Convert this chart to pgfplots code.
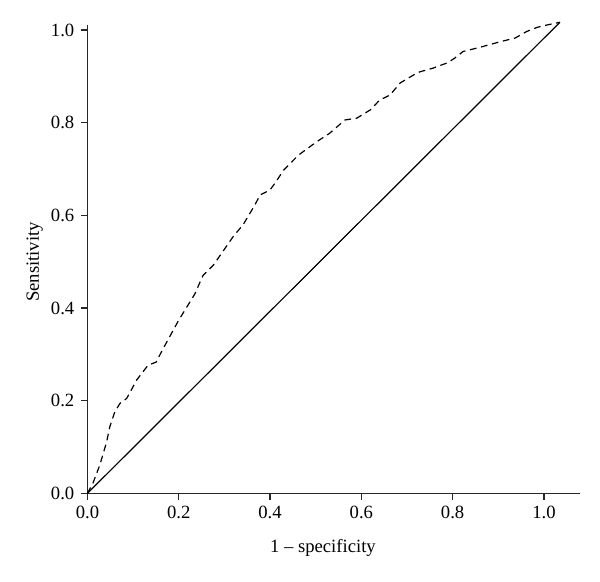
\documentclass[border=0pt]{standalone}
\usepackage{fontspec}
\setmainfont{Liberation Serif}
\usepackage{pgfplots}
\pgfplotsset{compat=1.18}
\begin{document}
\fontsize{14}{16}\selectfont
\begin{tikzpicture}
\path[use as bounding box] (-65.6pt,-65.8pt) rectangle (384.4pt,370pt);
\begin{axis}[
  anchor=south west, at={(0,0)},
  scale only axis,
  width=369.4pt, height=351.2pt,
  xmin=0, xmax=1.079, ymin=0, ymax=1.011,
  axis lines=left,
  axis line style={-, line width=1pt, black!85},
  tick style={line width=1pt, black!85},
  tick align=outside,
  major tick length=5pt,
  xtick={0,0.2,0.4,0.6,0.8,1.0},
  ytick={0,0.2,0.4,0.6,0.8,1.0},
  /pgf/number format/assume math mode=true,
  xticklabel style={/pgf/number format/.cd, fixed, fixed zerofill, precision=1},
  yticklabel style={/pgf/number format/.cd, fixed, fixed zerofill, precision=1},
  xlabel={1 -- specificity},
  ylabel={Sensitivity},
  x label style={at={(axis description cs:0.478,-0.117)}, anchor=center},
  y label style={at={(axis description cs:-0.107,0.494)}, anchor=center, rotate=0},
  clip=false,
]
\addplot[black, line width=0.9pt] coordinates {(0,0) (1.035,1.017)};
\addplot[black, line width=0.9pt, dash pattern=on 5pt off 3.5pt] coordinates {
(0,0) (0.012,0.022) (0.027,0.061) (0.042,0.111) (0.049,0.144) (0.060,0.176)
(0.071,0.194) (0.086,0.205) (0.108,0.245) (0.133,0.277) (0.150,0.283)
(0.170,0.320) (0.200,0.374) (0.235,0.430) (0.247,0.457) (0.253,0.470)
(0.276,0.493) (0.319,0.554) (0.341,0.580) (0.367,0.623) (0.378,0.644)
(0.400,0.655) (0.411,0.670) (0.430,0.698) (0.462,0.730) (0.502,0.759)
(0.530,0.777) (0.564,0.806) (0.590,0.810) (0.620,0.828) (0.640,0.849)
(0.663,0.860) (0.685,0.886) (0.714,0.903) (0.728,0.910) (0.757,0.918)
(0.790,0.930) (0.805,0.940) (0.823,0.954) (0.860,0.963) (0.904,0.975)
(0.937,0.983) (0.962,0.997) (0.985,1.006) (1.006,1.011) (1.035,1.017)
};
\end{axis}
\end{tikzpicture}
\end{document}
